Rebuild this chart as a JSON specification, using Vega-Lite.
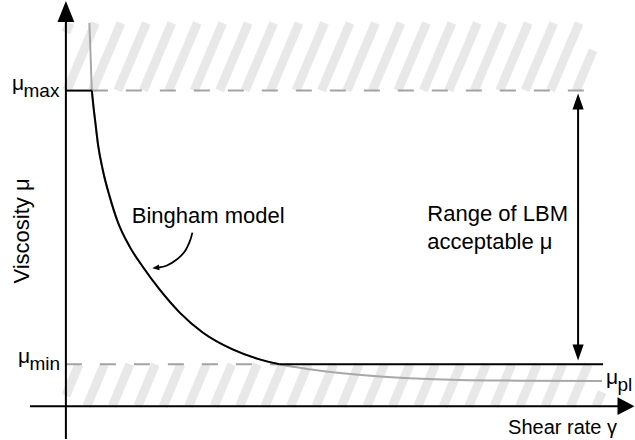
{
  "$schema": "https://vega.github.io/schema/vega-lite/v6.json",
  "width": 635,
  "height": 440,
  "padding": 0,
  "autosize": {"type": "fit", "contains": "padding"},
  "background": "white",
  "config": {"view": {"stroke": null}, "axis": {"disable": true}, "legend": {"disable": true}, "text": {"font": "Liberation Sans"}},
  "datasets": {
    "hatch": [
      {"x": 0, "y": 375.3, "x2": 4.1, "y2": 385},
      {"x": 1, "y": 317, "x2": 29.6, "y2": 385},
      {"x": 26.5, "y": 317, "x2": 55.1, "y2": 385},
      {"x": 52, "y": 317, "x2": 80.6, "y2": 385},
      {"x": 77.5, "y": 317, "x2": 106.1, "y2": 385},
      {"x": 103, "y": 317, "x2": 131.6, "y2": 385},
      {"x": 128.5, "y": 317, "x2": 157.1, "y2": 385},
      {"x": 154, "y": 317, "x2": 182.6, "y2": 385},
      {"x": 179.5, "y": 317, "x2": 208.1, "y2": 385},
      {"x": 205, "y": 317, "x2": 233.6, "y2": 385},
      {"x": 230.5, "y": 317, "x2": 259.1, "y2": 385},
      {"x": 256, "y": 317, "x2": 284.6, "y2": 385},
      {"x": 281.5, "y": 317, "x2": 310.1, "y2": 385},
      {"x": 307, "y": 317, "x2": 335.6, "y2": 385},
      {"x": 332.5, "y": 317, "x2": 361.1, "y2": 385},
      {"x": 358, "y": 317, "x2": 386.6, "y2": 385},
      {"x": 383.5, "y": 317, "x2": 412.1, "y2": 385},
      {"x": 409, "y": 317, "x2": 437.6, "y2": 385},
      {"x": 434.5, "y": 317, "x2": 463.1, "y2": 385},
      {"x": 460, "y": 317, "x2": 488.6, "y2": 385},
      {"x": 485.5, "y": 317, "x2": 514.1, "y2": 385},
      {"x": 511, "y": 317, "x2": 528, "y2": 357.5},
      {"x": 0, "y": 10.7, "x2": 13.1, "y2": 42},
      {"x": 21, "y": 0, "x2": 38.6, "y2": 42},
      {"x": 46.5, "y": 0, "x2": 64.1, "y2": 42},
      {"x": 72, "y": 0, "x2": 89.6, "y2": 42},
      {"x": 97.5, "y": 0, "x2": 115.1, "y2": 42},
      {"x": 123, "y": 0, "x2": 140.6, "y2": 42},
      {"x": 148.5, "y": 0, "x2": 166.1, "y2": 42},
      {"x": 174, "y": 0, "x2": 191.6, "y2": 42},
      {"x": 199.5, "y": 0, "x2": 217.1, "y2": 42},
      {"x": 225, "y": 0, "x2": 242.6, "y2": 42},
      {"x": 250.5, "y": 0, "x2": 268.1, "y2": 42},
      {"x": 276, "y": 0, "x2": 293.6, "y2": 42},
      {"x": 301.5, "y": 0, "x2": 319.1, "y2": 42},
      {"x": 327, "y": 0, "x2": 344.6, "y2": 42},
      {"x": 352.5, "y": 0, "x2": 370.1, "y2": 42},
      {"x": 378, "y": 0, "x2": 395.6, "y2": 42},
      {"x": 403.5, "y": 0, "x2": 421.1, "y2": 42},
      {"x": 429, "y": 0, "x2": 446.6, "y2": 42},
      {"x": 454.5, "y": 0, "x2": 472.1, "y2": 42},
      {"x": 480, "y": 0, "x2": 497.6, "y2": 42},
      {"x": 505.5, "y": 0, "x2": 523.1, "y2": 42},
      {"x": 531, "y": 0, "x2": 537, "y2": 14.3}
    ],
    "limits": [
      {"name": "mu_max", "x": 26, "y": 317, "x2": 521, "y2": 317},
      {"name": "mu_min", "x": 0, "y": 42, "x2": 214, "y2": 42}
    ],
    "bingham": [
      {"i": 0, "x": 23.5, "y": 385},
      {"i": 1, "x": 24.8, "y": 350},
      {"i": 2, "x": 26, "y": 317},
      {"i": 3, "x": 27.5, "y": 302},
      {"i": 4, "x": 29.5, "y": 285},
      {"i": 5, "x": 32, "y": 264},
      {"i": 6, "x": 37, "y": 237},
      {"i": 7, "x": 44, "y": 210},
      {"i": 8, "x": 52, "y": 185},
      {"i": 9, "x": 64, "y": 160},
      {"i": 10, "x": 77, "y": 140},
      {"i": 11, "x": 94, "y": 117},
      {"i": 12, "x": 114, "y": 94},
      {"i": 13, "x": 137, "y": 74},
      {"i": 14, "x": 167, "y": 57},
      {"i": 15, "x": 194, "y": 47},
      {"i": 16, "x": 214, "y": 42},
      {"i": 17, "x": 244, "y": 37},
      {"i": 18, "x": 277, "y": 33},
      {"i": 19, "x": 311, "y": 30},
      {"i": 20, "x": 344, "y": 28},
      {"i": 21, "x": 394, "y": 26.2},
      {"i": 22, "x": 454, "y": 25.6},
      {"i": 23, "x": 537, "y": 25.3}
    ],
    "lbm": [
      {"seg": "a", "i": 0, "x": 0, "y": 317},
      {"seg": "a", "i": 1, "x": 26, "y": 317},
      {"seg": "b", "i": 2, "x": 26, "y": 317},
      {"seg": "b", "i": 3, "x": 27.5, "y": 302},
      {"seg": "b", "i": 4, "x": 29.5, "y": 285},
      {"seg": "b", "i": 5, "x": 32, "y": 264},
      {"seg": "b", "i": 6, "x": 37, "y": 237},
      {"seg": "b", "i": 7, "x": 44, "y": 210},
      {"seg": "b", "i": 8, "x": 52, "y": 185},
      {"seg": "b", "i": 9, "x": 64, "y": 160},
      {"seg": "b", "i": 10, "x": 77, "y": 140},
      {"seg": "b", "i": 11, "x": 94, "y": 117},
      {"seg": "b", "i": 12, "x": 114, "y": 94},
      {"seg": "b", "i": 13, "x": 137, "y": 74},
      {"seg": "b", "i": 14, "x": 167, "y": 57},
      {"seg": "b", "i": 15, "x": 194, "y": 47},
      {"seg": "b", "i": 16, "x": 214, "y": 42},
      {"seg": "c", "i": 17, "x": 214, "y": 42},
      {"seg": "c", "i": 18, "x": 538, "y": 42}
    ],
    "axes": [
      {"name": "viscosity", "x": 0, "y": -33, "x2": 0, "y2": 390},
      {"name": "shear", "x": -36, "y": 0, "x2": 556, "y2": 0}
    ],
    "range": [
      {"x": 513, "y": 306, "x2": 513, "y2": 54}
    ],
    "pointer": [
      {"i": 0, "x": 126.7, "y": 174.3},
      {"i": 1, "x": 124, "y": 165.3},
      {"i": 2, "x": 119, "y": 155.3},
      {"i": 3, "x": 110.7, "y": 147},
      {"i": 4, "x": 100.7, "y": 141},
      {"i": 5, "x": 93, "y": 139.3}
    ],
    "headUpAxis": [{"x": 0, "y": 396.5}],
    "headRightAxis": [{"x": 561, "y": 0}],
    "headUpRange": [{"x": 513, "y": 306}],
    "headDownRange": [{"x": 513, "y": 54}],
    "headPointer": [{"x": 90, "y": 138.9}],
    "mu": [
      {"main": "μ", "sub": "max", "x": -54, "y": 317.5},
      {"main": "μ", "sub": "min", "x": -48, "y": 43},
      {"main": "μ", "sub": "pl", "x": 541, "y": 22}
    ],
    "notes": [
      {"text": "Bingham model", "x": 66, "y": 184},
      {"text": "Range of LBM", "x": 362, "y": 186},
      {"text": "acceptable μ", "x": 362, "y": 158}
    ],
    "xtitle": [{"text": "Shear rate γ", "x": 552, "y": -28}],
    "ytitle": [{"text": "Viscosity μ", "x": -44, "y": 176}]
  },
  "encoding": {
    "x": {"field": "x", "type": "quantitative", "scale": {"domain": [-66, 569], "nice": false, "zero": false}},
    "y": {"field": "y", "type": "quantitative", "scale": {"domain": [-33, 407], "nice": false, "zero": false}}
  },
  "layer": [
    {
      "data": {"name": "hatch"},
      "mark": {"type": "rule", "stroke": "#e8e8e8", "strokeWidth": 9, "strokeCap": "butt"},
      "encoding": {"x2": {"field": "x2"}, "y2": {"field": "y2"}}
    },
    {
      "data": {"name": "limits"},
      "mark": {"type": "rule", "stroke": "#a3a3a3", "strokeWidth": 2, "strokeDash": [16, 18]},
      "encoding": {"x2": {"field": "x2"}, "y2": {"field": "y2"}}
    },
    {
      "data": {"name": "bingham"},
      "mark": {"type": "line", "stroke": "#a8a8a8", "strokeWidth": 2, "interpolate": "monotone"},
      "encoding": {"order": {"field": "i", "type": "quantitative"}}
    },
    {
      "data": {"name": "lbm"},
      "mark": {"type": "line", "stroke": "#000000", "strokeWidth": 2, "interpolate": "monotone"},
      "encoding": {"detail": {"field": "seg", "type": "nominal"}, "order": {"field": "i", "type": "quantitative"}}
    },
    {
      "data": {"name": "axes"},
      "mark": {"type": "rule", "stroke": "#000000", "strokeWidth": 2},
      "encoding": {"x2": {"field": "x2"}, "y2": {"field": "y2"}}
    },
    {
      "data": {"name": "range"},
      "mark": {"type": "rule", "stroke": "#000000", "strokeWidth": 2},
      "encoding": {"x2": {"field": "x2"}, "y2": {"field": "y2"}}
    },
    {
      "data": {"name": "pointer"},
      "mark": {"type": "line", "stroke": "#000000", "strokeWidth": 1.8, "interpolate": "cardinal"},
      "encoding": {"order": {"field": "i", "type": "quantitative"}}
    },
    {
      "data": {"name": "headUpAxis"},
      "mark": {"type": "point", "shape": "M0,-1L-0.8,1L0.8,1Z", "size": 441, "filled": true, "color": "#000000", "opacity": 1}
    },
    {
      "data": {"name": "headRightAxis"},
      "mark": {"type": "point", "shape": "M1,0L-1,-1.05L-1,1.05Z", "size": 289, "filled": true, "color": "#000000", "opacity": 1}
    },
    {
      "data": {"name": "headUpRange"},
      "mark": {"type": "point", "shape": "M0,-1L-0.7,1L0.7,1Z", "size": 256, "filled": true, "color": "#000000", "opacity": 1}
    },
    {
      "data": {"name": "headDownRange"},
      "mark": {"type": "point", "shape": "M0,1L-0.7,-1L0.7,-1Z", "size": 256, "filled": true, "color": "#000000", "opacity": 1}
    },
    {
      "data": {"name": "headPointer"},
      "mark": {"type": "point", "shape": "M1,0L-1,-0.8L-1,0.8Z", "size": 49, "angle": 172, "filled": true, "color": "#000000", "opacity": 1}
    },
    {
      "data": {"name": "mu"},
      "mark": {"type": "text", "align": "left", "baseline": "alphabetic", "fontSize": 21, "color": "#000000"},
      "encoding": {"text": {"field": "main"}}
    },
    {
      "data": {"name": "mu"},
      "mark": {"type": "text", "align": "left", "baseline": "alphabetic", "fontSize": 19, "dx": 11.5, "dy": 6.5, "color": "#000000"},
      "encoding": {"text": {"field": "sub"}}
    },
    {
      "data": {"name": "notes"},
      "mark": {"type": "text", "align": "left", "baseline": "alphabetic", "fontSize": 22, "color": "#000000"},
      "encoding": {"text": {"field": "text"}}
    },
    {
      "data": {"name": "xtitle"},
      "mark": {"type": "text", "align": "right", "baseline": "alphabetic", "fontSize": 20, "color": "#000000"},
      "encoding": {"text": {"field": "text"}}
    },
    {
      "data": {"name": "ytitle"},
      "mark": {"type": "text", "align": "center", "baseline": "middle", "angle": 270, "fontSize": 22, "color": "#000000"},
      "encoding": {"text": {"field": "text"}}
    }
  ]
}
